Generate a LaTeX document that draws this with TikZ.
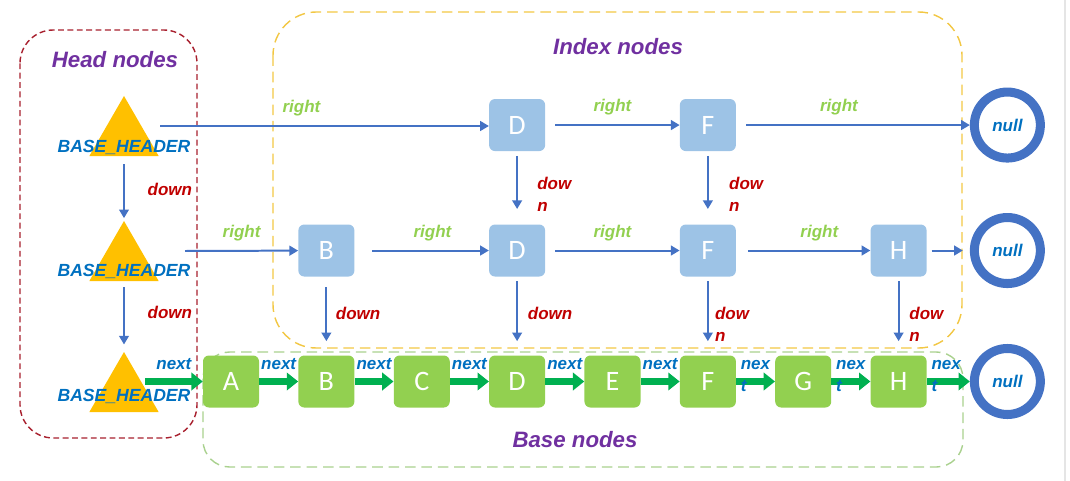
\documentclass[tikz,border=0pt]{standalone}
\usepackage{fontspec}
\setmainfont{Liberation Sans}
\newfontfamily\boxfont{Carlito}
\usepackage{tikz}
\usetikzlibrary{
  arrows.meta,
  shapes.geometric,
  positioning
}
\definecolor{slLink}{HTML}{4472C4}
\definecolor{slIndex}{HTML}{9DC3E6}
\definecolor{slBase}{HTML}{92D050}
\definecolor{slNext}{HTML}{00B050}
\definecolor{slHead}{HTML}{FFC000}
\definecolor{slRight}{HTML}{92D050}
\definecolor{slDown}{HTML}{C00000}
\definecolor{slText}{HTML}{0070C0}
\definecolor{slTitle}{HTML}{7030A0}
\definecolor{slHeadZone}{HTML}{A8202E}
\definecolor{slIndexZone}{HTML}{F2C744}
\definecolor{slBaseZone}{HTML}{A9D18E}
\tikzset{
  slnode/.style={
    rounded corners=5pt, minimum width=1.68cm, minimum height=1.56cm, inner sep=0pt,
    text=white, font=\boxfont\fontsize{24}{24}\selectfont
  },
  idxnode/.style={slnode, fill=slIndex},
  basenode/.style={slnode, fill=slBase},
  headtri/.style={regular polygon, regular polygon sides=3, minimum size=2.4cm, inner sep=0pt, fill=slHead},
  headtxt/.style={font=\bfseries\itshape\fontsize{15}{15}\selectfont, text=slText},
  nullnode/.style={
    circle, draw=slLink, line width=7.7pt, fill=white, minimum size=1.98cm, inner sep=0pt,
    font=\bfseries\itshape\fontsize{14.5}{15}\selectfont, text=slText
  },
  slink/.style={-{Triangle[length=2.6mm, width=2.9mm]}, line width=1.7pt, slLink},
  nextlink/.style={-{Triangle[length=3.4mm, width=5.2mm]}, line width=6pt, slNext},
  rlbl/.style={font=\bfseries\itshape\fontsize{14.5}{15}\selectfont, text=slRight, above=4pt},
  dlbl/.style={font=\bfseries\itshape\fontsize{14.5}{19}\selectfont, text=slDown, anchor=west, align=left},
  nlbl/.style={font=\bfseries\itshape\fontsize{14.5}{19}\selectfont, text=slText},
  nwrap/.style={nlbl, pos=0, anchor=west, align=left, inner sep=1pt, yshift=4.7pt},
  sltitle/.style={font=\bfseries\itshape\fontsize{19}{19}\selectfont, text=slTitle},
  headzone/.style={draw=slHeadZone, dash pattern=on 5pt off 3pt, rounded corners=1cm, line width=1.2pt},
  indexzone/.style={draw=slIndexZone, dash pattern=on 9pt off 5pt, rounded corners=1.3cm, line width=1.2pt},
  basezone/.style={draw=slBaseZone, dash pattern=on 9pt off 5pt, rounded corners=0.8cm, line width=1.2pt}
}

\begin{document}
\begin{tikzpicture}[x=0.03cm, y=-0.03cm, node distance=2.355cm and 1.167cm]
  \useasboundingbox (0,0) rectangle (1070,481);
  \draw[black!10, line width=1pt] (1065,0) -- (1065,481);

  \draw[headzone] (20,30) rectangle (197,438);
  \draw[indexzone] (273,12) rectangle (962,348);
  \draw[basezone] (203,352) rectangle (963,467);
  \node[sltitle] (ttlHead) at (115,60) {Head nodes};
  \node[sltitle] (ttlIndex) at (618,47) {Index nodes};
  \node[sltitle] (ttlBase) at (575,440) {Base nodes};

  \node[headtri] (ht1) at (124,136) {};
  \node[headtri] (ht2) at (124,261) {};
  \node[headtri] (ht3) at (124,392) {};
  \node[headtxt] (hd1) at (124,147) {BASE\_HEADER};
  \node[headtxt] (hd2) at (124,271) {BASE\_HEADER};
  \node[headtxt] (hd3) at (124,396) {BASE\_HEADER};

  \node[basenode] (bA) at (231,381.5) {A};
  \node[basenode, right=of bA] (bB) {B};
  \node[basenode, right=of bB] (bC) {C};
  \node[basenode, right=of bC] (bD) {D};
  \node[basenode, right=of bD] (bE) {E};
  \node[basenode, right=of bE] (bF) {F};
  \node[basenode, right=of bF] (bG) {G};
  \node[basenode, right=of bG] (bH) {H};
  \node[nullnode, right=1.29cm of bH] (nul3) {null};

  \node[idxnode, above=of bB] (i2B) {B};
  \node[idxnode, above=of bD] (i2D) {D};
  \node[idxnode, above=of bF] (i2F) {F};
  \node[idxnode, above=of bH] (i2H) {H};
  \node[nullnode, right=1.29cm of i2H] (nul2) {null};
  \node[idxnode, above=2.19cm of i2D] (i1D) {D};
  \node[idxnode, above=2.19cm of i2F] (i1F) {F};
  \node[nullnode] (nul1) at (nul2 |- i1F) {null};

  \coordinate (hd1r) at (160,126);
  \coordinate (hd2r) at (185,251);
  \coordinate (hd3r) at (145,381.5);

  \draw[slink] (hd1r) -- node[rlbl, pos=.43]{right} (hd1r -| i1D.west);
  \draw[slink, shorten <=8.5pt] (i1D) -- node[rlbl]{right} (i1F);
  \draw[slink, shorten <=8.5pt] (i1F) -- node[rlbl, pos=.44]{right} (nul1);

  \draw[slink] (hd2r) -- node[rlbl]{right} (i2B);
  \draw[slink, shorten <=15pt] (i2B) -- node[rlbl, pos=.58]{right} (i2D);
  \draw[slink, shorten <=8.5pt] (i2D) -- node[rlbl]{right} (i2F);
  \draw[slink, shorten <=10pt] (i2F) -- node[rlbl, pos=.62]{right} (i2H);
  \draw[slink, shorten <=4pt, shorten >=6pt] (i2H) -- (nul2);

  \draw[slink, shorten <=5pt, shorten >=2pt] (hd1) -- node[dlbl, xshift=16pt]{down} (ht2);
  \draw[slink, shorten <=4pt, shorten >=6pt] (hd2) -- node[dlbl, xshift=16pt, yshift=4pt]{down} (ht3);
  \draw[slink, shorten <=4pt, shorten >=13pt] (i1D) -- node[dlbl, xshift=13pt, yshift=-5.5pt]{dow\\n} (i2D);
  \draw[slink, shorten <=4pt, shorten >=13pt] (i1F) -- node[dlbl, xshift=14pt, yshift=-5.5pt]{dow\\n} (i2F);
  \draw[slink, shorten <=9pt, shorten >=12pt] (i2B) -- node[dlbl, xshift=4pt, yshift=2.5pt]{down} (bB);
  \draw[slink, shorten <=4pt, shorten >=12pt] (i2D) -- node[dlbl, xshift=5pt, yshift=2.5pt]{down} (bD);
  \draw[slink, shorten <=4pt, shorten >=12pt] (i2F) -- node[dlbl, xshift=2pt, yshift=-7pt]{dow\\n} (bF);
  \draw[slink, shorten <=4pt, shorten >=12pt] (i2H) -- node[dlbl, xshift=5pt, yshift=-7pt]{dow\\n} (bH);

  \draw[nextlink] (hd3r) -- node[nlbl, above=4pt]{next} (bA);
  \foreach \a/\b in {bA/bB, bB/bC, bC/bD, bD/bE, bE/bF}{
    \draw[nextlink] (\a) -- node[nlbl, above=4pt]{next} (\b);
  }
  \foreach \a/\b in {bF/bG, bG/bH, bH/nul3}{
    \draw[nextlink] (\a) -- node[nwrap]{nex\\t} (\b);
  }
\end{tikzpicture}
\end{document}
